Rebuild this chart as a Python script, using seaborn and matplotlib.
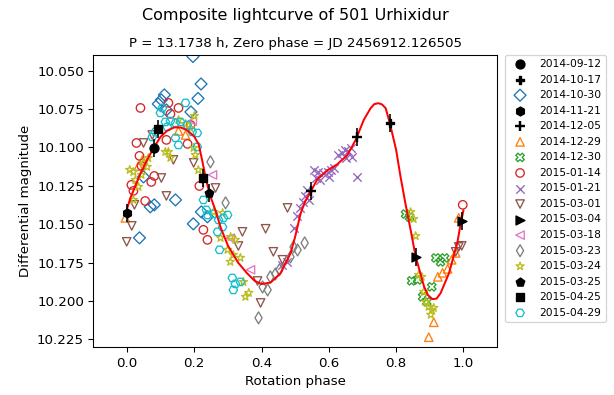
import numpy as np
import matplotlib
matplotlib.use("Agg")
import matplotlib.pyplot as plt
import seaborn as sns

title = "Composite lightcurve of 501 Urhixidur"
subtitle = "P = 13.1738 h, Zero phase = JD 2456912.126505"

sessions = ["2014-09-12", "2014-10-17", "2014-10-30", "2014-11-21", "2014-12-05",
            "2014-12-29", "2014-12-30", "2015-01-14", "2015-01-21", "2015-03-01",
            "2015-03-04", "2015-03-18", "2015-03-23", "2015-03-24", "2015-03-25",
            "2015-04-25", "2015-04-29"]

p_0912 = [0.081]
m_0912 = [10.1003]
p_1017 = [0.781]
m_1017 = [10.084]
p_1030 = [0.196, 0.220, 0.211, 0.190, 0.111, 0.102, 0.093, 0.117, 0.049, 0.069,
          0.081, 0.144, 0.037, 0.221, 0.239, 0.197]
m_1030 = [10.0408, 10.0587, 10.0681, 10.0769, 10.0658, 10.0691, 10.0717, 10.0756,
          10.1192, 10.1387, 10.1374, 10.1342, 10.1589, 10.1420, 10.1452, 10.1498]
p_1121 = [0.0]
m_1121 = [10.1427]
p_1205 = [0.548, 0.683]
m_1205 = [10.1284, 10.0932]
p_1229 = [0.897, 0.912, 0.924, 0.938, 0.953, 0.965, 0.977, 0.986, -0.005, 0.034,
          0.046, 0.153, 0.174]
m_1229 = [10.2236, 10.2139, 10.1843, 10.1817, 10.1791, 10.1732, 10.1687, 10.1459,
          10.1459, 10.1121, 10.1081, 10.0893, 10.0919]
p_1230 = [0.828, 0.840, 0.846, 0.864, 0.879, 0.891, 0.906, 0.918, 0.932, 0.944]
m_1230 = [10.1434, 10.1453, 10.1869, 10.1863, 10.1973, 10.2006, 10.1908, 10.1720,
          10.1746, 10.1720]
p_0114 = [0.040, 0.123, 0.153, 0.129, 0.028, 0.037, 0.043, 0.013, 0.019, 0.081,
          0.072, 0.054, 0.117, 0.180, 0.215, 0.227, 0.239, 0.189, 0.998]
m_0114 = [10.0743, 10.0710, 10.0743, 10.0782, 10.0971, 10.1055, 10.1120, 10.1244,
          10.1283, 10.1186, 10.1225, 10.1349, 10.0951, 10.0977, 10.1251, 10.1537,
          10.1602, 10.0854, 10.1374]
p_0121 = [0.462, 0.477, 0.495, 0.504, 0.513, 0.522, 0.528, 0.540, 0.534, 0.555,
          0.561, 0.569, 0.575, 0.584, 0.596, 0.605, 0.614, 0.599, 0.626, 0.638,
          0.652, 0.656, 0.665, 0.670, 0.685, 0.647]
m_0121 = [10.1765, 10.1746, 10.1524, 10.1446, 10.1394, 10.1355, 10.1316, 10.1342,
          10.1277, 10.1147, 10.1199, 10.1160, 10.1212, 10.1166, 10.1160, 10.1147,
          10.1134, 10.1192, 10.1049, 10.1036, 10.1069, 10.1023, 10.1003, 10.1062,
          10.1192, 10.1016]
p_0301 = [-0.001, 0.014, 0.022, 0.049, 0.102, 0.117, 0.138, 0.198, 0.075, 0.263,
          0.331, 0.343, 0.388, 0.397, 0.412, 0.435, 0.462, 0.477, 0.977, 0.986, 0.995]
m_0301 = [10.1615, 10.1511, 10.1374, 10.0971, 10.1199, 10.1316, 10.1081, 10.1101,
          10.0919, 10.1264, 10.1642, 10.1550, 10.1870, 10.2013, 10.1530, 10.1680,
          10.1732, 10.1394, 10.1680, 10.1648, 10.1641]
p_0304 = [0.858, 0.996]
m_0304 = [10.1713, 10.1480]
p_0318 = [0.194, 0.254, 0.307, 0.367]
m_0318 = [10.0828, 10.1179, 10.1591, 10.1797]
p_0323 = [0.248, 0.293, 0.391, 0.403, 0.418, 0.426, 0.441, 0.453, 0.486, 0.495,
          0.507, 0.528]
m_0323 = [10.1094, 10.1361, 10.2110, 10.1909, 10.1928, 10.1843, 10.1824, 10.1797,
          10.1713, 10.1648, 10.1668, 10.1622]
p_0324 = [0.008, 0.019, 0.025, 0.043, 0.049, 0.060, 0.063, 0.034, 0.019, 0.114,
          0.123, 0.129, 0.153, 0.174, 0.200, 0.188, 0.198, 0.203, 0.212, 0.257,
          0.284, 0.278, 0.299, 0.308, 0.322, 0.316, 0.337, 0.307, 0.346, 0.352,
          0.362, 0.843, 0.852, 0.858, 0.867, 0.876, 0.882, 0.888, 0.897, 0.906,
          0.903, 0.912]
m_0324 = [10.1146, 10.1160, 10.1212, 10.1179, 10.1101, 10.1127, 10.1069, 10.1257,
          10.1342, 10.1029, 10.1029, 10.1068, 10.0821, 10.0847, 10.0795, 10.0873,
          10.1003, 10.1049, 10.1147, 10.1420, 10.1427, 10.1589, 10.1667, 10.1583,
          10.1602, 10.1700, 10.1719, 10.1745, 10.1876, 10.1973, 10.1947, 10.1421,
          10.1466, 10.1577, 10.1830, 10.1843, 10.1941, 10.2006, 10.2038, 10.2058,
          10.2090, 10.2045]
p_0325 = [0.245]
m_0325 = [10.1297]
p_0425 = [0.091, 0.227]
m_0425 = [10.0880, 10.1200]
p_0429 = [0.174, 0.105, 0.099, 0.114, 0.129, 0.144, 0.159, 0.179, 0.194, 0.209,
          0.144, 0.153, 0.209, 0.075, 0.084, 0.120, 0.227, 0.236, 0.239, 0.257,
          0.272, 0.287, 0.299, 0.284, 0.269, 0.275, 0.313, 0.322, 0.316, 0.337]
m_0429 = [10.0710, 10.0743, 10.0775, 10.0834, 10.0828, 10.0840, 10.0834, 10.0854,
          10.0899, 10.0906, 10.0938, 10.0984, 10.0997, 10.0932, 10.0899, 10.0867,
          10.1342, 10.1407, 10.1440, 10.1433, 10.1472, 10.1459, 10.1440, 10.1518,
          10.1550, 10.1667, 10.1850, 10.1889, 10.1928, 10.1876]

fit_phase = [0.00, 0.01, 0.025, 0.04, 0.06, 0.08, 0.10, 0.12, 0.14, 0.16, 0.18, 0.20,
             0.213, 0.223, 0.235, 0.248, 0.263, 0.278, 0.30, 0.33, 0.357, 0.38, 0.40,
             0.427, 0.456, 0.486, 0.50, 0.516, 0.53, 0.548, 0.565, 0.595, 0.625, 0.655,
             0.68, 0.704, 0.724, 0.735, 0.747, 0.758, 0.769, 0.781, 0.80, 0.813, 0.828,
             0.843, 0.858, 0.883, 0.895, 0.908, 0.92, 0.932, 0.957, 0.982, 0.99, 1.00]
fit_mag = [10.140, 10.133, 10.125, 10.117, 10.108, 10.100, 10.093, 10.089, 10.087,
           10.087, 10.089, 10.093, 10.098, 10.108, 10.121, 10.132, 10.141, 10.152,
           10.164, 10.175, 10.182, 10.187, 10.189, 10.188, 10.182, 10.169, 10.158,
           10.143, 10.135, 10.128, 10.121, 10.115, 10.111, 10.105, 10.095, 10.082,
           10.0745, 10.0718, 10.0712, 10.0720, 10.0745, 10.084, 10.1016, 10.119,
           10.137, 10.1537, 10.171, 10.1906, 10.1963, 10.1988, 10.1985, 10.195,
           10.182, 10.162, 10.152, 10.141]

x_ticks = [0.0, 0.2, 0.4, 0.6, 0.8, 1.0]
y_ticks = [10.050, 10.075, 10.100, 10.125, 10.150, 10.175, 10.200, 10.225]

phases = [p_0912, p_1017, p_1030, p_1121, p_1205, p_1229, p_1230, p_0114, p_0121,
          p_0301, p_0304, p_0318, p_0323, p_0324, p_0325, p_0425, p_0429]
mags = [m_0912, m_1017, m_1030, m_1121, m_1205, m_1229, m_1230, m_0114, m_0121,
        m_0301, m_0304, m_0318, m_0323, m_0324, m_0325, m_0425, m_0429]
markers = ['o', 'P', 'D', 'h', '+', '^', 'X', 'o', 'x', 'v', '>', '<', 'd', '*', 'p', 's', 'H']
colors = ['k', 'k', 'C0', 'k', 'k', 'C1', 'C2', 'C3', 'C4', 'C5', 'k', 'C6', 'C7', 'C8',
          'k', 'k', 'C9']

fig = plt.figure(figsize=(6.4, 4.115), dpi=96)
ax = fig.add_axes([0.152, 0.1203, 0.657, 0.7412])

for lab, ph, mg, mk, col in zip(sessions, phases, mags, markers, colors):
    if col == 'k':
        ax.errorbar(ph, mg, yerr=[0.006] * len(ph), fmt='none', ecolor='k',
                    elinewidth=1.2, zorder=3, label='_nolegend_')
        if mk in ('+', 'x'):
            sns.scatterplot(x=ph, y=mg, marker=mk, color='k', s=60, linewidth=1.8,
                            label=lab, ax=ax, zorder=4, legend=False)
        else:
            sns.scatterplot(x=ph, y=mg, marker=mk, color='k', edgecolor='k', s=45,
                            linewidth=1, label=lab, ax=ax, zorder=4, legend=False)
    else:
        if mk in ('+', 'x'):
            sns.scatterplot(x=ph, y=mg, marker=mk, color=col, s=40, linewidth=1,
                            label=lab, ax=ax, zorder=1, legend=False)
        else:
            sns.scatterplot(x=ph, y=mg, marker=mk, facecolor='none', edgecolor=col,
                            s=40, linewidth=1, label=lab, ax=ax, zorder=1, legend=False)

sns.lineplot(x=fit_phase, y=fit_mag, color='red', linewidth=1.5, sort=False,
             estimator=None, ax=ax, zorder=2, legend=False)

ax.set_xlim(-0.1, 1.1)
ax.set_ylim(10.2303, 10.0396)
ax.set_xticks(x_ticks)
ax.set_yticks(y_ticks)
ax.set_xticklabels([f"{t:.1f}" for t in x_ticks])
ax.set_yticklabels([f"{t:.3f}" for t in y_ticks])
ax.set_xlabel("Rotation phase")
ax.set_ylabel("Differential magnitude")
ax.set_title(subtitle, fontsize=10)
fig.text(0.152 + 0.657 / 2, 1 - 15 / 395, title, ha='center', va='center', fontsize=12)

ax.legend(loc='upper left', bbox_to_anchor=(1.02, 1.0), borderaxespad=0,
          fontsize=8, labelspacing=0.52)

fig.savefig("out.png", dpi=96)
